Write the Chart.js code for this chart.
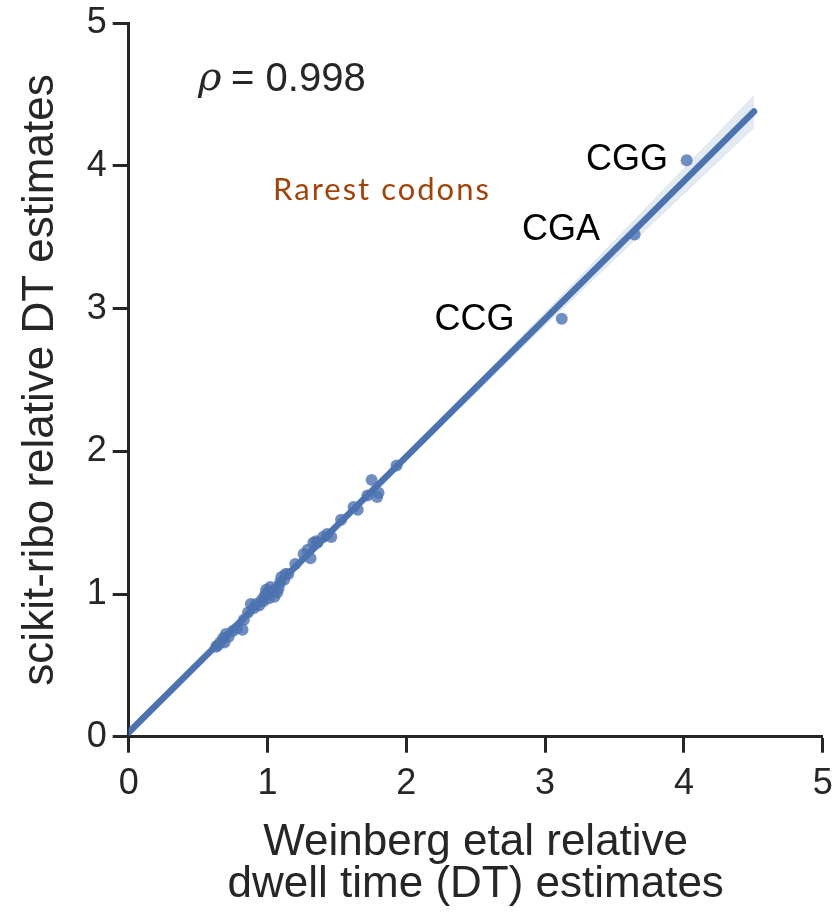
<!DOCTYPE html>
<html>
<head>
<meta charset="utf-8">
<title>Dwell time estimates</title>
<script src="https://cdn.jsdelivr.net/npm/chart.js@4.4.1/dist/chart.umd.min.js"></script>
<style>
  html, body { margin: 0; padding: 0; background: #fff; }
  #wrap { width: 834px; height: 914px; }
</style>
</head>
<body>
<div id="wrap"><canvas id="dt" width="834" height="914"></canvas></div>
<script>
// per-codon relative dwell times: Weinberg et al (x) vs scikit-ribo (y)
const weinbergDT = [
  0.63, 0.64, 0.66, 0.68, 0.69, 0.70, 0.72, 0.75, 0.78, 0.82,
  0.83, 0.86, 0.88, 0.90, 0.92, 0.94, 0.96, 0.97, 0.98, 0.99,
  1.00, 1.01, 1.02, 1.03, 1.05, 1.07, 1.08, 1.09, 1.10, 1.12,
  1.13, 1.15, 1.20, 1.26, 1.29, 1.31, 1.33, 1.35, 1.36, 1.40,
  1.43, 1.46, 1.53, 1.62, 1.65, 1.72, 1.75, 1.79, 1.80, 1.93,
  3.12, 3.645, 4.02
];
const scikitDT = [
  0.63, 0.64, 0.66, 0.69, 0.66, 0.72, 0.70, 0.74, 0.76, 0.75,
  0.82, 0.87, 0.93, 0.90, 0.93, 0.92, 0.96, 0.95, 0.99, 1.03,
  1.01, 0.97, 1.05, 1.02, 0.98, 1.01, 1.04, 1.08, 1.12, 1.10,
  1.14, 1.14, 1.21, 1.28, 1.31, 1.25, 1.36, 1.37, 1.36, 1.40,
  1.42, 1.40, 1.52, 1.61, 1.59, 1.69, 1.80, 1.68, 1.71, 1.90,
  2.93, 3.52, 4.04
];

// codons called out on the plot
const rareCodons = ['CCG', 'CGA', 'CGG'];

// least-squares fit and its confidence band
const fitIntercept = 0.03;
const fitSlope = 0.966;
const fitRange = [0, 4.505];
const ciX = [0, 0.5, 1, 1.5, 2, 2.5, 3, 3.5, 4, 4.505];
const ciHalf = [0.03, 0.02, 0.015, 0.015, 0.02, 0.03, 0.045, 0.065, 0.088, 0.113];
const rho = '0.998';

const xTicks = [0, 1, 2, 3, 4, 5];
const yTicks = [0, 1, 2, 3, 4, 5];

const blue = '#4C72B0';
const ink = '#262626';
const fontFam = '"Liberation Sans", Arial, sans-serif';

const fitLine = fitRange.map(v => ({ x: v, y: fitIntercept + fitSlope * v }));
const ciUpper = ciX.map((v, i) => ({ x: v, y: fitIntercept + fitSlope * v + ciHalf[i] }));
const ciLower = ciX.map((v, i) => ({ x: v, y: fitIntercept + fitSlope * v - ciHalf[i] }));
const points = weinbergDT.map((v, i) => ({ x: v, y: scikitDT[i] }));

const notes = {
  id: 'notes',
  afterDatasetsDraw(chart) {
    const { ctx, scales: { x, y } } = chart;
    ctx.save();
    // codon names, right-aligned to the left of their points
    const spots = [[2.78, 2.92], [3.395, 3.55], [3.885, 4.04]];
    ctx.fillStyle = '#000';
    ctx.font = '36px ' + fontFam;
    ctx.textAlign = 'right';
    ctx.textBaseline = 'middle';
    rareCodons.forEach((c, i) => {
      ctx.fillText(c, x.getPixelForValue(spots[i][0]), y.getPixelForValue(spots[i][1]));
    });

    // correlation
    ctx.textAlign = 'left';
    ctx.fillStyle = ink;
    const rx = x.getPixelForValue(0.5), ry = y.getPixelForValue(4.605);
    ctx.font = 'italic 40px "DejaVu Serif", serif';
    ctx.fillText('\u03C1', rx, ry);
    ctx.font = '40px ' + fontFam;
    ctx.fillText('= ' + rho, rx + 33, ry);

    ctx.fillStyle = '#A0440C';
    ctx.font = '31px Lato, "Open Sans", sans-serif';
    ctx.letterSpacing = '2px';
    ctx.fillText('Rarest codons', x.getPixelForValue(1.04), y.getPixelForValue(3.83));
    ctx.restore();
  }
};

const axisCommon = {
  type: 'linear',
  min: 0,
  max: 5,
  border: { display: true, color: ink, width: 3 },
  grid: {
    display: true,
    drawOnChartArea: false,
    drawTicks: true,
    tickLength: 16,
    tickWidth: 3,
    tickColor: ink
  }
};

const titleFont = { family: fontFam, size: 44, lineHeight: 0.955 };

new Chart(document.getElementById('dt'), {
  type: 'scatter',
  data: {
    datasets: [
      {
        label: 'ci upper',
        data: ciUpper,
        showLine: true,
        pointRadius: 0,
        borderWidth: 1,
        borderColor: 'rgba(76,114,176,0.12)',
        backgroundColor: 'rgba(76,114,176,0.15)',
        fill: '+1',
        order: 3
      },
      {
        label: 'ci lower',
        data: ciLower,
        showLine: true,
        pointRadius: 0,
        borderWidth: 1,
        borderColor: 'rgba(76,114,176,0.12)',
        fill: false,
        order: 3
      },
      {
        label: 'codons',
        data: points,
        pointRadius: 6,
        pointHoverRadius: 6,
        pointBorderWidth: 0,
        backgroundColor: 'rgba(76,114,176,0.8)',
        order: 2
      },
      {
        label: 'fit',
        data: fitLine,
        showLine: true,
        pointRadius: 0,
        borderWidth: 6.5,
        borderColor: blue,
        borderCapStyle: 'round',
        fill: false,
        order: 0
      }
    ]
  },
  options: {
    responsive: false,
    animation: false,
    events: [],
    layout: { padding: { top: 23.3, right: 11.3, left: 0, bottom: 0 } },
    plugins: {
      legend: { display: false },
      tooltip: { enabled: false }
    },
    scales: {
      x: {
        ...axisCommon,
        position: 'bottom',
        afterBuildTicks: s => { s.ticks = xTicks.map(v => ({ value: v })); },
        afterFit: s => { s.height = 177.3; s.paddingLeft = 0; s.paddingRight = 0; },
        ticks: {
          color: ink,
          padding: 10,
          maxRotation: 0,
          font: { family: fontFam, size: 36 }
        },
        title: {
          display: true,
          text: ['Weinberg etal relative', 'dwell time (DT) estimates'],
          color: ink,
          font: titleFont,
          padding: { top: 0, bottom: 8 }
        }
      },
      y: {
        ...axisCommon,
        position: 'left',
        afterBuildTicks: s => { s.ticks = yTicks.map(v => ({ value: v })); },
        afterFit: s => { s.width = 128.7; s.paddingTop = 0; s.paddingBottom = 0; },
        ticks: {
          color: ink,
          padding: 6,
          font: { family: fontFam, size: 36 }
        },
        title: {
          display: true,
          text: 'scikit-ribo relative DT estimates',
          color: ink,
          font: titleFont,
          padding: { top: 20, bottom: 0 }
        }
      }
    }
  },
  plugins: [notes]
});
</script>
</body>
</html>
